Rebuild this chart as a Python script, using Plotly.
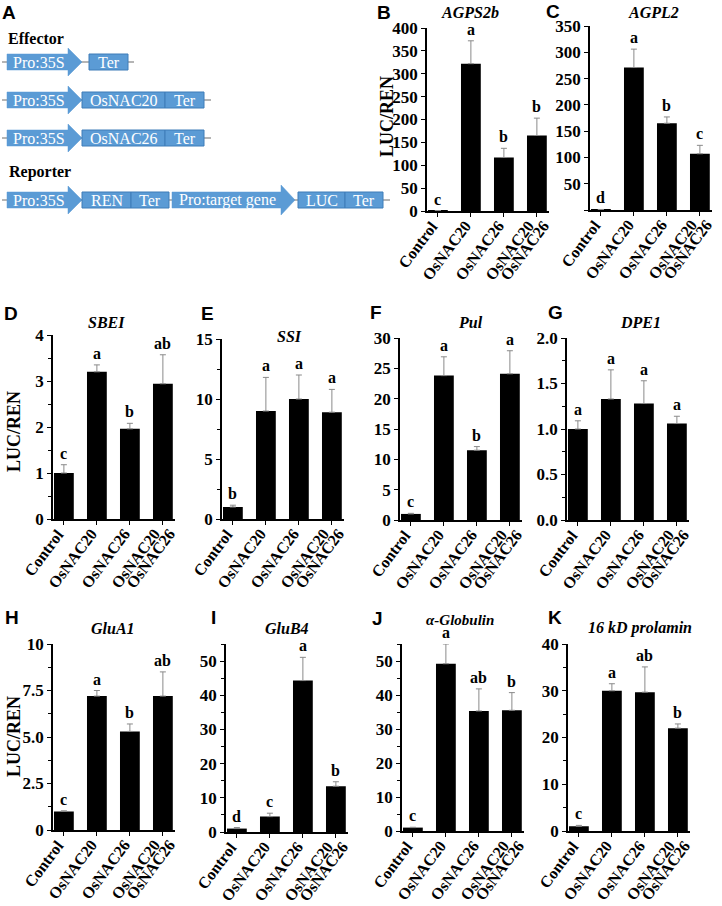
import plotly.graph_objects as go

W, H = 722, 906

# ---------------- data ----------------
category_lines = [["Control"], ["OsNAC20"], ["OsNAC26"], ["OsNAC20", "OsNAC26"]]

genes = ["AGPS2b", "AGPL2", "SBEI", "SSI", "Pul", "DPE1",
         "GluA1", "GluB4", "α-Globulin", "16 kD prolamin"]
panel_letters = ["B", "C", "D", "E", "F", "G", "H", "I", "J", "K"]

agps2b_mean = [1, 322, 117, 165]
agps2b_err = [0, 50, 20, 38]
agps2b_sig = ["c", "a", "b", "b"]

agpl2_mean = [1, 271, 165, 107]
agpl2_err = [0, 35, 12, 16]
agpl2_sig = ["d", "a", "b", "c"]

sbei_mean = [1.0, 3.2, 1.96, 2.94]
sbei_err = [0.18, 0.15, 0.12, 0.63]
sbei_sig = ["c", "a", "b", "ab"]

ssi_mean = [1.0, 9.0, 10.0, 8.9]
ssi_err = [0.15, 2.8, 2.0, 1.9]
ssi_sig = ["b", "a", "a", "a"]

pul_mean = [1.0, 23.8, 11.5, 24.1]
pul_err = [0.1, 3.1, 0.6, 3.8]
pul_sig = ["c", "a", "b", "a"]

dpe1_mean = [1.0, 1.33, 1.28, 1.06]
dpe1_err = [0.09, 0.32, 0.25, 0.08]
dpe1_sig = ["a", "a", "a", "a"]

glua1_mean = [1.0, 7.2, 5.3, 7.2]
glua1_err = [0.03, 0.3, 0.4, 1.3]
glua1_sig = ["c", "a", "b", "ab"]

glub4_mean = [1.0, 4.5, 44.3, 13.4]
glub4_err = [0.3, 1.0, 6.8, 1.3]
glub4_sig = ["d", "c", "a", "b"]

globulin_mean = [1.0, 49.2, 35.3, 35.5]
globulin_err = [0.1, 5.8, 6.5, 5.2]
globulin_sig = ["c", "a", "ab", "b"]

prolamin_mean = [1.0, 30.0, 29.7, 22.0]
prolamin_err = [0.2, 1.5, 5.4, 0.9]
prolamin_sig = ["c", "a", "ab", "b"]

y_max = [400, 350, 4, 15, 30, 2.0, 10, 55, 55, 40]

effector_constructs = [["Pro:35S", "Ter"],
                       ["Pro:35S", "OsNAC20", "Ter"],
                       ["Pro:35S", "OsNAC26", "Ter"]]
reporter_construct = ["Pro:35S", "REN", "Ter", "Pro:target gene", "LUC", "Ter"]

means = [agps2b_mean, agpl2_mean, sbei_mean, ssi_mean, pul_mean, dpe1_mean,
         glua1_mean, glub4_mean, globulin_mean, prolamin_mean]
errs = [agps2b_err, agpl2_err, sbei_err, ssi_err, pul_err, dpe1_err,
        glua1_err, glub4_err, globulin_err, prolamin_err]
sigs = [agps2b_sig, agpl2_sig, sbei_sig, ssi_sig, pul_sig, dpe1_sig,
        glua1_sig, glub4_sig, globulin_sig, prolamin_sig]

# ---------------- layout geometry (pixels) ----------------
geom = [
    dict(x0=427, ytop=28, ybot=211, title=(470, 13), letter=(384, 13), ylab=(387, 117)),
    dict(x0=590, ytop=26, ybot=210, title=(653, 13), letter=(553, 12), ylab=None),
    dict(x0=53, ytop=335, ybot=519, title=(106, 322), letter=(11, 313), ylab=(14, 432)),
    dict(x0=222, ytop=339, ybot=519, title=(289, 336), letter=(207, 313), ylab=None),
    dict(x0=400, ytop=338, ybot=520, title=(470, 323), letter=(376, 312), ylab=None),
    dict(x0=567, ytop=338, ybot=520, title=(640, 323), letter=(555, 312), ylab=None),
    dict(x0=53, ytop=644, ybot=830, title=(113, 628), letter=(12, 617), ylab=(14, 737)),
    dict(x0=226, ytop=644, ybot=832, title=(287, 628), letter=(213, 617), ylab=None),
    dict(x0=402, ytop=644, ybot=831, title=(460, 620), letter=(377, 618), ylab=None),
    dict(x0=568, ytop=644, ybot=831, title=(640, 628), letter=(555, 617), ylab=None),
]

tick_specs = [
    dict(tickvals=list(range(0, 401, 50)), ticktext=None, minor=None),
    dict(tickvals=list(range(0, 351, 50)), ticktext=[""] + [str(v) for v in range(50, 351, 50)], minor=None),
    dict(tickvals=[0, 1, 2, 3, 4], ticktext=None, minor=0.5),
    dict(tickvals=[0, 5, 10, 15], ticktext=None, minor=2.5),
    dict(tickvals=[0, 5, 10, 15, 20, 25, 30], ticktext=None, minor=None),
    dict(tickvals=[0, 0.5, 1.0, 1.5, 2.0], ticktext=["0.0", "0.5", "1.0", "1.5", "2.0"], minor=0.25),
    dict(tickvals=[0, 2.5, 5, 7.5, 10], ticktext=["0", "2.5", "5.0", "7.5", "10"], minor=1.25),
    dict(tickvals=[0, 10, 20, 30, 40, 50], ticktext=None, minor=5),
    dict(tickvals=[0, 10, 20, 30, 40, 50], ticktext=None, minor=5),
    dict(tickvals=[0, 10, 20, 30, 40], ticktext=None, minor=5),
]

SERIF = "Liberation Serif"
SANS = "Liberation Sans"
UNIT = 33.0  # px per category
XLO, XHI = -0.33, 3.36
ANGLE = -53
LABEL_DX, LABEL_DY, LINE_DX = 6, -4, 15


def bold_serif(size):
    return dict(family=SERIF, size=size, color="black", weight="bold")


def px(x):
    return x / W


def py(y):
    return 1 - y / H


fig = go.Figure()
layout = dict(width=W, height=H, margin=dict(l=0, r=0, t=0, b=0, autoexpand=False),
              plot_bgcolor="white", paper_bgcolor="white", showlegend=False,
              font=dict(family=SERIF, color="black"))
annotations = []
shapes = []

for i in range(10):
    g = geom[i]
    n = i + 1
    xname = "x" if n == 1 else f"x{n}"
    yname = "y" if n == 1 else f"y{n}"
    xkey = "xaxis" if n == 1 else f"xaxis{n}"
    ykey = "yaxis" if n == 1 else f"yaxis{n}"
    xw = (XHI - XLO) * UNIT
    xs = list(range(len(category_lines)))
    fig.add_trace(go.Bar(
        x=xs, y=means[i], xaxis=xname, yaxis=yname,
        marker=dict(color="black", line=dict(width=0)), width=0.6,
        error_y=dict(type="data", symmetric=False, array=errs[i],
                     arrayminus=[0] * 4, color="#8a8a8a", thickness=1, width=3),
    ))
    layout[xkey] = dict(
        domain=[px(g["x0"]), px(g["x0"] + xw)], anchor=yname, automargin=False,
        range=[XLO, XHI], tickvals=xs, showticklabels=False,
        showline=True, linecolor="black", linewidth=1.5,
        ticks="outside", ticklen=4, tickwidth=1, tickcolor="black",
        showgrid=False, zeroline=False, fixedrange=True,
    )
    ts = tick_specs[i]
    yd = dict(
        domain=[py(g["ybot"]), py(g["ytop"])], anchor=xname, automargin=False,
        range=[0, y_max[i]], tickvals=ts["tickvals"],
        showline=True, linecolor="black", linewidth=1.5,
        ticks="outside", ticklen=4, tickwidth=1, tickcolor="black",
        showgrid=False, zeroline=False, fixedrange=True, tickfont=bold_serif(17),
    )
    if ts["ticktext"] is not None:
        yd["ticktext"] = ts["ticktext"]
    if ts["minor"] is not None:
        yd["minor"] = dict(dtick=ts["minor"], tick0=0, ticks="outside", ticklen=3,
                           tickwidth=1, tickcolor="black", showgrid=False)
    layout[ykey] = yd

    # rotated category labels (two-line label with tight spacing)
    for k, lines in enumerate(category_lines):
        base = LABEL_DX if len(lines) == 1 else LABEL_DX - 3
        for j, line in enumerate(lines):
            annotations.append(dict(
                x=k, y=0, xref=xname, yref=yname, text=line, showarrow=False,
                textangle=ANGLE, xanchor="right", yanchor="top",
                xshift=base + j * LINE_DX, yshift=LABEL_DY,
                font=bold_serif(16),
            ))
    # significance letters
    for k in range(4):
        annotations.append(dict(
            x=k, y=means[i][k] + errs[i][k], xref=xname, yref=yname,
            text=sigs[i][k], showarrow=False, yanchor="bottom", yshift=1,
            font=bold_serif(16),
        ))
    annotations.append(dict(
        x=px(g["title"][0]), y=py(g["title"][1]), xref="paper", yref="paper",
        text=genes[i], showarrow=False, xanchor="center", yanchor="middle",
        font=dict(family=SERIF, size=16 if i != 8 else 15, color="black",
                  weight="bold", style="italic"),
    ))
    annotations.append(dict(
        x=px(g["letter"][0]), y=py(g["letter"][1]), xref="paper", yref="paper",
        text=panel_letters[i], showarrow=False, xanchor="center", yanchor="middle",
        font=dict(family=SANS, size=19, color="black", weight="bold"),
    ))
    if g["ylab"] is not None:
        annotations.append(dict(
            x=px(g["ylab"][0]), y=py(g["ylab"][1]), xref="paper", yref="paper",
            text="LUC/REN", showarrow=False, textangle=-90,
            xanchor="center", yanchor="middle", font=bold_serif(18),
        ))

# ---------------- panel A schematic (axis 11, 1 unit = 1 px) ----------------
AW, AH = 392, 230
layout["xaxis11"] = dict(domain=[0, px(AW)], range=[0, AW], visible=False,
                         anchor="y11", fixedrange=True, automargin=False)
layout["yaxis11"] = dict(domain=[py(AH), 1], range=[AH, 0], visible=False,
                         anchor="x11", fixedrange=True, automargin=False)
fig.add_trace(go.Scatter(x=[0], y=[0], xaxis="x11", yaxis="y11", mode="markers",
                         marker=dict(opacity=0, size=1), hoverinfo="skip"))
FILL = "#5B9BD5"
EDGE = "#3E7CB8"
BOXFONT = dict(family=SERIF, size=16, color="white")


def add_line(x0, x1, y):
    shapes.append(dict(type="line", xref="x11", yref="y11", x0=x0, x1=x1, y0=y, y1=y,
                       line=dict(color="#6d6d6d", width=1.2), layer="above"))


def add_box(x0, x1, y, label):
    shapes.append(dict(type="rect", xref="x11", yref="y11", x0=x0, x1=x1,
                       y0=y - 8, y1=y + 8, fillcolor=FILL,
                       line=dict(color=EDGE, width=1), layer="above"))
    annotations.append(dict(x=(x0 + x1) / 2, y=y, xref="x11", yref="y11", text=label,
                            showarrow=False, xanchor="center", yanchor="middle",
                            font=BOXFONT))


def add_arrow(x0, tip, y, label, head=14, hh=14):
    b = tip - head
    path = (f"M {x0},{y-8} L {b},{y-8} L {b},{y-hh} L {tip},{y} L {b},{y+hh} "
            f"L {b},{y+8} L {x0},{y+8} Z")
    shapes.append(dict(type="path", xref="x11", yref="y11", path=path, fillcolor=FILL,
                       line=dict(color=FILL, width=0.5), layer="above"))
    annotations.append(dict(x=(x0 + b) / 2 + 1, y=y, xref="x11", yref="y11", text=label,
                            showarrow=False, xanchor="center", yanchor="middle",
                            font=BOXFONT))


annotations.append(dict(x=px(9), y=py(13), xref="paper", yref="paper", text="A",
                        showarrow=False, xanchor="center", yanchor="middle",
                        font=dict(family=SANS, size=19, color="black", weight="bold")))
annotations.append(dict(x=6, y=38, xref="x11", yref="y11", text="Effector",
                        showarrow=False, xanchor="left", yanchor="middle",
                        font=bold_serif(16)))
annotations.append(dict(x=7, y=172, xref="x11", yref="y11", text="Reporter",
                        showarrow=False, xanchor="left", yanchor="middle",
                        font=bold_serif(16)))

row_y = [62, 100, 138]
c0 = effector_constructs[0]
add_line(2, 134, row_y[0])
add_arrow(7, 82, row_y[0], c0[0])
add_box(89, 128, row_y[0], c0[1])
for r in (1, 2):
    c = effector_constructs[r]
    add_line(2, 211, row_y[r])
    add_arrow(7, 82, row_y[r], c[0])
    add_box(82, 165, row_y[r], c[1])
    add_box(165, 204, row_y[r], c[2])

yr = 200
rc = reporter_construct
add_line(2, 390, yr)
add_arrow(7, 82, yr, rc[0])
add_box(82, 131, yr, rc[1])
add_box(131, 169, yr, rc[2])
add_arrow(172, 295, yr, rc[3], head=14, hh=15)
add_box(298, 345, yr, rc[4])
add_box(345, 383, yr, rc[5])

layout["annotations"] = annotations
layout["shapes"] = shapes
fig.update_layout(**layout)
fig.write_html(
    "out.html",
    config={"displayModeBar": False},
    post_script="document.body.style.margin='0px';document.body.style.overflow='hidden';",
)
